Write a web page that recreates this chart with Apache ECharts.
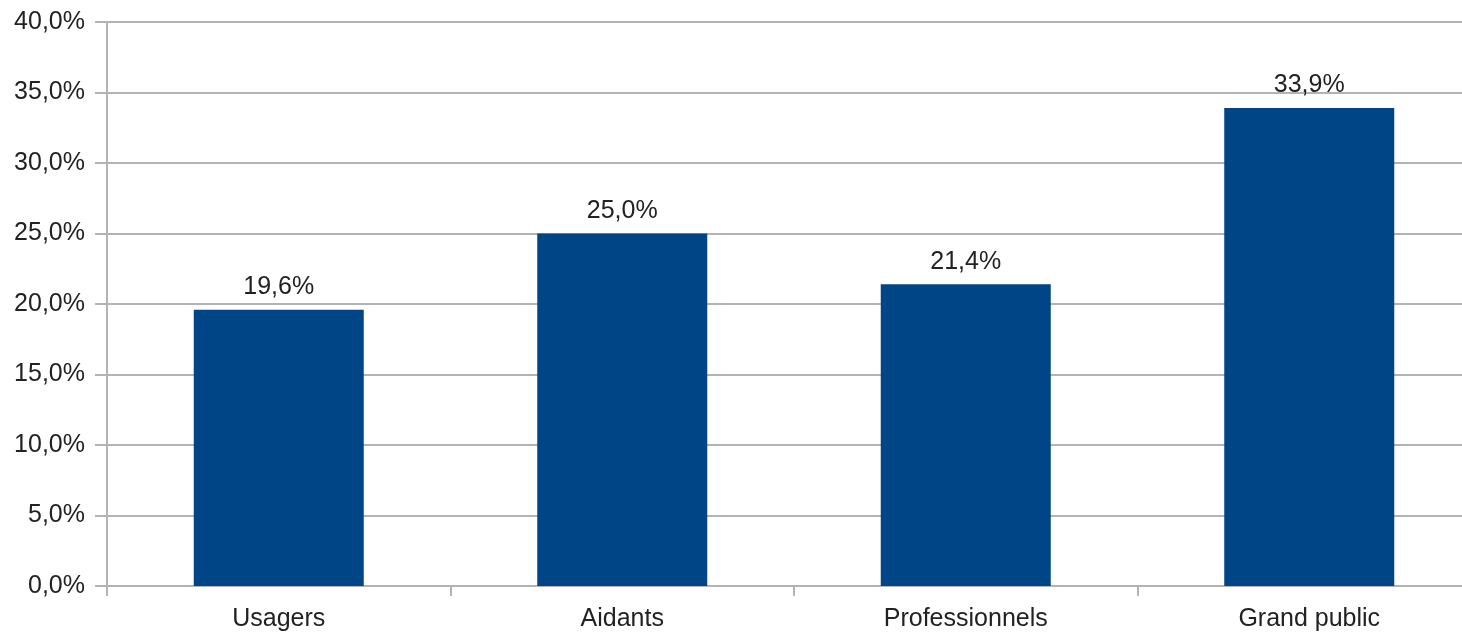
<!DOCTYPE html>
<html>
<head>
<meta charset="utf-8">
<script src="https://cdn.jsdelivr.net/npm/echarts@6/dist/echarts.min.js"></script>
<style>html,body{margin:0;padding:0;background:#fff;overflow:hidden;}#c{width:1462px;height:632px;}</style>
</head>
<body>
<div id="c"></div>
<script>
const categories = ['Usagers', 'Aidants', 'Professionnels', 'Grand public'];
const values = [19.6, 25.0, 21.4, 33.9];

const fmt = v => v.toFixed(1).replace('.', ',') + '%';
const chart = echarts.init(document.getElementById('c'));
chart.setOption({
  animation: false,
  backgroundColor: '#ffffff',
  textStyle: { fontFamily: 'Liberation Sans' },
  grid: { left: 107, width: 1374, top: 22, height: 564, containLabel: false, outerBoundsMode: 'none' },
  xAxis: {
    type: 'category',
    data: categories,
    boundaryGap: true,
    axisLine: { show: true, lineStyle: { color: '#b3b3b3', width: 2 } },
    axisTick: { show: true, length: 10, lineStyle: { color: '#b3b3b3', width: 2 } },
    axisLabel: { color: '#222', fontSize: 25, margin: 21, fontFamily: 'Liberation Sans' }
  },
  yAxis: {
    type: 'value',
    min: 0, max: 40, interval: 5,
    axisLine: { show: true, lineStyle: { color: '#b3b3b3', width: 2 } },
    axisTick: { show: true, length: 12, lineStyle: { color: '#b3b3b3', width: 2 } },
    splitLine: { show: true, lineStyle: { color: '#b3b3b3', width: 2 } },
    axisLabel: { color: '#222', fontSize: 25, margin: 22, formatter: fmt, fontFamily: 'Liberation Sans' }
  },
  series: [{
    type: 'bar',
    data: values,
    barWidth: 170,
    itemStyle: { color: '#004586' },
    label: {
      show: true, position: 'top', distance: 10,
      color: '#222', fontSize: 25, fontFamily: 'Liberation Sans',
      formatter: p => fmt(p.value)
    }
  }]
});
</script>
</body>
</html>
